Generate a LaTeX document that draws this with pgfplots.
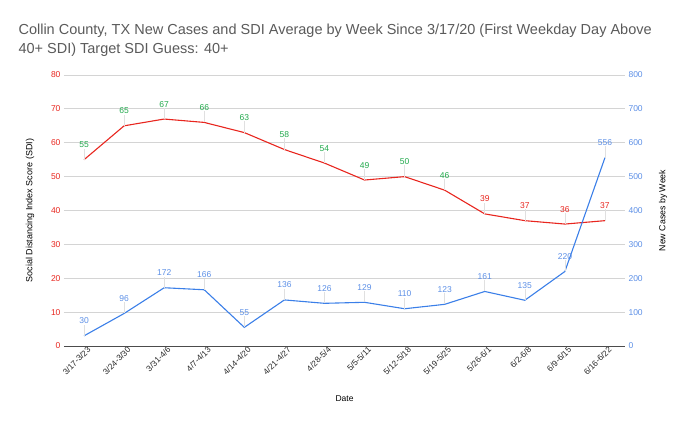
\documentclass[border=0pt]{standalone}
\usepackage{pgfplots}
\pgfplotsset{compat=1.18}
\usepackage{fontspec}
\setmainfont{Liberation Sans}
\definecolor{sdired}{HTML}{E8261F}
\definecolor{sdigreen}{HTML}{1FA84A}
\definecolor{caseblue}{HTML}{3B7FE8}
\definecolor{labblue}{HTML}{5C8FE6}
\definecolor{titlegray}{HTML}{5A5A5A}
\definecolor{gridgray}{HTML}{D4D4D4}
\begin{document}
\begin{tikzpicture}
\pgfplotsset{
  base/.style={
    scale only axis, width=561pt, height=271pt,
    xmin=-0.5, xmax=13.5,
    /pgf/number format/assume math mode=true,
    tick style={draw=none},
  },
  lead/.style={
    error bars/y dir=plus, error bars/y fixed=#1, error bars/error mark=none,
    error bars/error bar style={black!12, line width=0.6pt},
  },
}
\begin{axis}[
  base,
  ymin=0, ymax=80, ytick={0,10,...,80},
  ymajorgrids, grid style={gridgray, line width=0.8pt},
  axis line style={draw=none},
  xtick={0,...,13},
  xticklabels={3/17-3/23,3/24-3/30,3/31-4/6,4/7-4/13,4/14-4/20,4/21-4/27,4/28-5/4,5/5-5/11,5/12-5/18,5/19-5/25,5/26-6/1,6/2-6/8,6/9-6/15,6/16-6/22},
  x tick label style={rotate=45, anchor=north east, font=\fontsize{8.3}{9}\selectfont, text=black!85, inner sep=2pt, xshift=4pt},
  y tick label style={font=\fontsize{8.5}{10}\selectfont, text=sdired},
  xlabel={Date}, xlabel style={font=\fontsize{8.5}{10}\selectfont, yshift=-14pt},
  ylabel={Social Distancing Index Score (SDI)},
  ylabel style={font=\fontsize{9}{10}\selectfont, at={(axis description cs:0,0.5)}, anchor=center, yshift=34pt},
  title={Collin County, TX New Cases and SDI Average by Week Since 3/17/20 (First Weekday Day Above\\40+ SDI) Target SDI Guess: 40+},
  title style={font=\fontsize{14.5}{19}\selectfont, text=titlegray, align=left, anchor=north west, at={(rel axis cs:0,1)}, xshift=-49pt, yshift=49pt},
  clip=false,
]
\draw[black!70, line width=0.9pt] (rel axis cs:0,0) -- (rel axis cs:1,0);
\addplot[sdired, line width=1.1pt, lead=3.3,
  visualization depends on={y \as \rawy},
  nodes near coords={\pgfmathparse{\rawy<40}\ifnum\pgfmathresult>0 \color{sdired}\else\color{sdigreen}\fi\pgfmathprintnumber{\rawy}},
  every node near coord/.append style={font=\fontsize{8.5}{10}\selectfont, yshift=8pt},
] coordinates {
  (0,55) (1,65) (2,67) (3,66) (4,63) (5,58) (6,54) (7,49) (8,50) (9,46) (10,39) (11,37) (12,36) (13,37)
};
\path[use as bounding box] (rel axis cs:0,0) ++(-64pt,-80pt) rectangle ++(690pt,426pt);
\end{axis}
\begin{axis}[
  base,
  ymin=0, ymax=800, ytick={0,100,...,800},
  axis y line*=right, axis x line=none,
  axis line style={draw=none},
  y tick label style={font=\fontsize{8.5}{10}\selectfont, text=labblue},
  ylabel={New Cases by Week},
  ylabel style={font=\fontsize{8.8}{10}\selectfont, at={(axis description cs:1,0.5)}, anchor=center, yshift=-38pt},
  clip=false,
]
\addplot[caseblue, line width=1.1pt, lead=33,
  nodes near coords,
  every node near coord/.append style={font=\fontsize{8.5}{10}\selectfont, text=labblue, yshift=8pt},
] coordinates {
  (0,30) (1,96) (2,172) (3,166) (4,55) (5,136) (6,126) (7,129) (8,110) (9,123) (10,161) (11,135) (12,220) (13,556)
};
\end{axis}
\end{tikzpicture}
\end{document}
